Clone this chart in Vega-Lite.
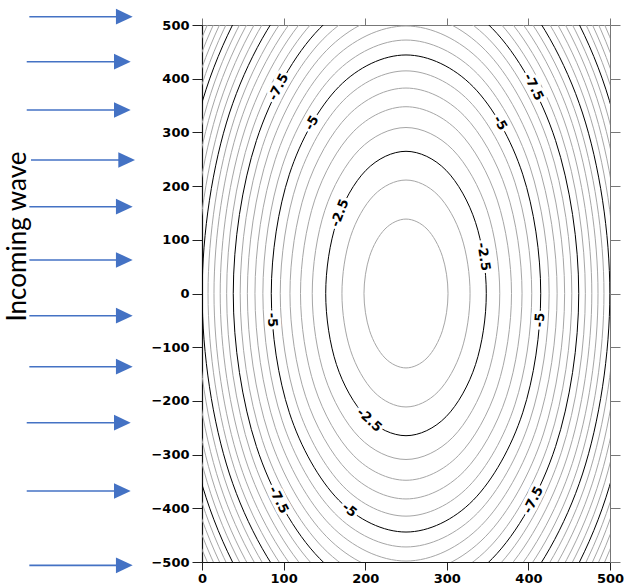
{
"$schema":"https://vega.github.io/schema/vega-lite/v6.json",
"autosize":"none",
"padding":{"left":202,"top":25,"right":14,"bottom":26},
"width":408,"height":537,
"background":"white",
"config":{"view":{"stroke":null},"axis":{"grid":false,"labelFont":"DejaVu Sans","labelFontWeight":"bold","labelFontSize":13,"labelColor":"black","domainColor":"#222","tickColor":"#222","labelOverlap":false}},
"datasets":{
"c":[
{"l":-1.5,"o":0,"x":301.5,"y":0},{"l":-1.5,"o":1,"x":294.6,"y":69.3},{"l":-1.5,"o":2,"x":275.8,"y":120},{"l":-1.5,"o":3,"x":250,"y":138.6},{"l":-1.5,"o":4,"x":224.2,"y":120},{"l":-1.5,"o":5,"x":205.4,"y":69.3},{"l":-1.5,"o":6,"x":198.5,"y":0},{"l":-1.5,"o":7,"x":205.4,"y":-69.3},{"l":-1.5,"o":8,"x":224.2,"y":-120},{"l":-1.5,"o":9,"x":250,"y":-138.6},{"l":-1.5,"o":10,"x":275.8,"y":-120},{"l":-1.5,"o":11,"x":294.6,"y":-69.3},
{"l":-2,"o":0,"x":328.5,"y":0},{"l":-2,"o":1,"x":318.0,"y":105.7},{"l":-2,"o":2,"x":289.3,"y":183.0},{"l":-2,"o":3,"x":250,"y":211.3},{"l":-2,"o":4,"x":210.7,"y":183.0},{"l":-2,"o":5,"x":182.0,"y":105.7},{"l":-2,"o":6,"x":171.5,"y":0},{"l":-2,"o":7,"x":182.0,"y":-105.7},{"l":-2,"o":8,"x":210.7,"y":-183.0},{"l":-2,"o":9,"x":250,"y":-211.3},{"l":-2,"o":10,"x":289.3,"y":-183.0},{"l":-2,"o":11,"x":318.0,"y":-105.7},
{"l":-2.5,"o":0,"x":348.4,"y":0},{"l":-2.5,"o":1,"x":335.2,"y":132.4},{"l":-2.5,"o":2,"x":299.2,"y":229.3},{"l":-2.5,"o":3,"x":250,"y":264.8},{"l":-2.5,"o":4,"x":200.8,"y":229.3},{"l":-2.5,"o":5,"x":164.8,"y":132.4},{"l":-2.5,"o":6,"x":151.6,"y":0},{"l":-2.5,"o":7,"x":164.8,"y":-132.4},{"l":-2.5,"o":8,"x":200.8,"y":-229.3},{"l":-2.5,"o":9,"x":250,"y":-264.8},{"l":-2.5,"o":10,"x":299.2,"y":-229.3},{"l":-2.5,"o":11,"x":335.2,"y":-132.4},
{"l":-3,"o":0,"x":364.9,"y":0},{"l":-3,"o":1,"x":349.5,"y":154.6},{"l":-3,"o":2,"x":307.4,"y":267.7},{"l":-3,"o":3,"x":250,"y":309.1},{"l":-3,"o":4,"x":192.6,"y":267.7},{"l":-3,"o":5,"x":150.5,"y":154.6},{"l":-3,"o":6,"x":135.1,"y":0},{"l":-3,"o":7,"x":150.5,"y":-154.6},{"l":-3,"o":8,"x":192.6,"y":-267.7},{"l":-3,"o":9,"x":250,"y":-309.1},{"l":-3,"o":10,"x":307.4,"y":-267.7},{"l":-3,"o":11,"x":349.5,"y":-154.6},
{"l":-3.5,"o":0,"x":379.3,"y":0},{"l":-3.5,"o":1,"x":361.9,"y":173.9},{"l":-3.5,"o":2,"x":314.6,"y":301.2},{"l":-3.5,"o":3,"x":250,"y":347.8},{"l":-3.5,"o":4,"x":185.4,"y":301.2},{"l":-3.5,"o":5,"x":138.1,"y":173.9},{"l":-3.5,"o":6,"x":120.7,"y":0},{"l":-3.5,"o":7,"x":138.1,"y":-173.9},{"l":-3.5,"o":8,"x":185.4,"y":-301.2},{"l":-3.5,"o":9,"x":250,"y":-347.8},{"l":-3.5,"o":10,"x":314.6,"y":-301.2},{"l":-3.5,"o":11,"x":361.9,"y":-173.9},
{"l":-4,"o":0,"x":392.2,"y":0},{"l":-4,"o":1,"x":373.2,"y":191.3},{"l":-4,"o":2,"x":321.1,"y":331.3},{"l":-4,"o":3,"x":250,"y":382.6},{"l":-4,"o":4,"x":178.9,"y":331.3},{"l":-4,"o":5,"x":126.9,"y":191.3},{"l":-4,"o":6,"x":107.8,"y":0},{"l":-4,"o":7,"x":126.9,"y":-191.3},{"l":-4,"o":8,"x":178.9,"y":-331.3},{"l":-4,"o":9,"x":250,"y":-382.6},{"l":-4,"o":10,"x":321.1,"y":-331.3},{"l":-4,"o":11,"x":373.2,"y":-191.3},
{"l":-4.5,"o":0,"x":404.1,"y":0},{"l":-4.5,"o":1,"x":383.4,"y":207.3},{"l":-4.5,"o":2,"x":327.0,"y":359.0},{"l":-4.5,"o":3,"x":250,"y":414.6},{"l":-4.5,"o":4,"x":173.0,"y":359.0},{"l":-4.5,"o":5,"x":116.6,"y":207.3},{"l":-4.5,"o":6,"x":95.9,"y":0},{"l":-4.5,"o":7,"x":116.6,"y":-207.3},{"l":-4.5,"o":8,"x":173.0,"y":-359.0},{"l":-4.5,"o":9,"x":250,"y":-414.6},{"l":-4.5,"o":10,"x":327.0,"y":-359.0},{"l":-4.5,"o":11,"x":383.4,"y":-207.3},
{"l":-5,"o":0,"x":415.1,"y":0},{"l":-5,"o":1,"x":393.0,"y":222.1},{"l":-5,"o":2,"x":332.5,"y":384.7},{"l":-5,"o":3,"x":250,"y":444.2},{"l":-5,"o":4,"x":167.5,"y":384.7},{"l":-5,"o":5,"x":107.1,"y":222.1},{"l":-5,"o":6,"x":84.9,"y":0},{"l":-5,"o":7,"x":107.1,"y":-222.1},{"l":-5,"o":8,"x":167.5,"y":-384.7},{"l":-5,"o":9,"x":250,"y":-444.2},{"l":-5,"o":10,"x":332.5,"y":-384.7},{"l":-5,"o":11,"x":393.0,"y":-222.1},
{"l":-5.5,"o":0,"x":425.4,"y":0},{"l":-5.5,"o":1,"x":401.9,"y":236.0},{"l":-5.5,"o":2,"x":337.7,"y":408.8},{"l":-5.5,"o":3,"x":250,"y":472.0},{"l":-5.5,"o":4,"x":162.3,"y":408.8},{"l":-5.5,"o":5,"x":98.1,"y":236.0},{"l":-5.5,"o":6,"x":74.6,"y":0},{"l":-5.5,"o":7,"x":98.1,"y":-236.0},{"l":-5.5,"o":8,"x":162.3,"y":-408.8},{"l":-5.5,"o":9,"x":250,"y":-472.0},{"l":-5.5,"o":10,"x":337.7,"y":-408.8},{"l":-5.5,"o":11,"x":401.9,"y":-236.0},
{"l":-6,"o":0,"x":435.2,"y":0},{"l":-6,"o":1,"x":410.3,"y":249.1},{"l":-6,"o":2,"x":342.6,"y":431.4},{"l":-6,"o":3,"x":250,"y":498.2},{"l":-6,"o":4,"x":157.4,"y":431.4},{"l":-6,"o":5,"x":89.7,"y":249.1},{"l":-6,"o":6,"x":64.9,"y":0},{"l":-6,"o":7,"x":89.7,"y":-249.1},{"l":-6,"o":8,"x":157.4,"y":-431.4},{"l":-6,"o":9,"x":250,"y":-498.2},{"l":-6,"o":10,"x":342.6,"y":-431.4},{"l":-6,"o":11,"x":410.3,"y":-249.1},
{"l":-6.5,"o":0,"x":444.4,"y":0},{"l":-6.5,"o":1,"x":418.4,"y":261.6},{"l":-6.5,"o":2,"x":347.2,"y":453.0},{"l":-6.5,"o":3,"x":250,"y":523.1},{"l":-6.5,"o":4,"x":152.8,"y":453.0},{"l":-6.5,"o":5,"x":81.6,"y":261.6},{"l":-6.5,"o":6,"x":55.6,"y":0},{"l":-6.5,"o":7,"x":81.6,"y":-261.6},{"l":-6.5,"o":8,"x":152.8,"y":-453.0},{"l":-6.5,"o":9,"x":250,"y":-523.1},{"l":-6.5,"o":10,"x":347.2,"y":-453.0},{"l":-6.5,"o":11,"x":418.4,"y":-261.6},
{"l":-7,"o":0,"x":453.2,"y":0},{"l":-7,"o":1,"x":426.0,"y":273.5},{"l":-7,"o":2,"x":351.6,"y":473.6},{"l":-7,"o":3,"x":250,"y":546.9},{"l":-7,"o":4,"x":148.4,"y":473.6},{"l":-7,"o":5,"x":74.0,"y":273.5},{"l":-7,"o":6,"x":46.8,"y":0},{"l":-7,"o":7,"x":74.0,"y":-273.5},{"l":-7,"o":8,"x":148.4,"y":-473.6},{"l":-7,"o":9,"x":250,"y":-546.9},{"l":-7,"o":10,"x":351.6,"y":-473.6},{"l":-7,"o":11,"x":426.0,"y":-273.5},
{"l":-7.5,"o":0,"x":461.7,"y":0},{"l":-7.5,"o":1,"x":433.3,"y":284.9},{"l":-7.5,"o":2,"x":355.9,"y":493.4},{"l":-7.5,"o":3,"x":250,"y":569.7},{"l":-7.5,"o":4,"x":144.1,"y":493.4},{"l":-7.5,"o":5,"x":66.7,"y":284.9},{"l":-7.5,"o":6,"x":38.3,"y":0},{"l":-7.5,"o":7,"x":66.7,"y":-284.9},{"l":-7.5,"o":8,"x":144.1,"y":-493.4},{"l":-7.5,"o":9,"x":250,"y":-569.7},{"l":-7.5,"o":10,"x":355.9,"y":-493.4},{"l":-7.5,"o":11,"x":433.3,"y":-284.9},
{"l":-8,"o":0,"x":469.8,"y":0},{"l":-8,"o":1,"x":440.4,"y":295.8},{"l":-8,"o":2,"x":359.9,"y":512.3},{"l":-8,"o":3,"x":250,"y":591.6},{"l":-8,"o":4,"x":140.1,"y":512.3},{"l":-8,"o":5,"x":59.6,"y":295.8},{"l":-8,"o":6,"x":30.2,"y":0},{"l":-8,"o":7,"x":59.6,"y":-295.8},{"l":-8,"o":8,"x":140.1,"y":-512.3},{"l":-8,"o":9,"x":250,"y":-591.6},{"l":-8,"o":10,"x":359.9,"y":-512.3},{"l":-8,"o":11,"x":440.4,"y":-295.8},
{"l":-8.5,"o":0,"x":477.7,"y":0},{"l":-8.5,"o":1,"x":447.2,"y":306.4},{"l":-8.5,"o":2,"x":363.9,"y":530.6},{"l":-8.5,"o":3,"x":250,"y":612.7},{"l":-8.5,"o":4,"x":136.1,"y":530.6},{"l":-8.5,"o":5,"x":52.8,"y":306.4},{"l":-8.5,"o":6,"x":22.3,"y":0},{"l":-8.5,"o":7,"x":52.8,"y":-306.4},{"l":-8.5,"o":8,"x":136.1,"y":-530.6},{"l":-8.5,"o":9,"x":250,"y":-612.7},{"l":-8.5,"o":10,"x":363.9,"y":-530.6},{"l":-8.5,"o":11,"x":447.2,"y":-306.4},
{"l":-9,"o":0,"x":485.3,"y":0},{"l":-9,"o":1,"x":453.8,"y":316.6},{"l":-9,"o":2,"x":367.7,"y":548.3},{"l":-9,"o":3,"x":250,"y":633.1},{"l":-9,"o":4,"x":132.4,"y":548.3},{"l":-9,"o":5,"x":46.2,"y":316.6},{"l":-9,"o":6,"x":14.7,"y":0},{"l":-9,"o":7,"x":46.2,"y":-316.6},{"l":-9,"o":8,"x":132.4,"y":-548.3},{"l":-9,"o":9,"x":250,"y":-633.1},{"l":-9,"o":10,"x":367.7,"y":-548.3},{"l":-9,"o":11,"x":453.8,"y":-316.6},
{"l":-9.5,"o":0,"x":492.6,"y":0},{"l":-9.5,"o":1,"x":460.1,"y":326.5},{"l":-9.5,"o":2,"x":371.3,"y":565.4},{"l":-9.5,"o":3,"x":250,"y":652.9},{"l":-9.5,"o":4,"x":128.7,"y":565.4},{"l":-9.5,"o":5,"x":39.9,"y":326.5},{"l":-9.5,"o":6,"x":7.4,"y":0},{"l":-9.5,"o":7,"x":39.9,"y":-326.5},{"l":-9.5,"o":8,"x":128.7,"y":-565.4},{"l":-9.5,"o":9,"x":250,"y":-652.9},{"l":-9.5,"o":10,"x":371.3,"y":-565.4},{"l":-9.5,"o":11,"x":460.1,"y":-326.5},
{"l":-10,"o":0,"x":499.8,"y":0},{"l":-10,"o":1,"x":466.3,"y":336.1},{"l":-10,"o":2,"x":374.9,"y":582.0},{"l":-10,"o":3,"x":250,"y":672.1},{"l":-10,"o":4,"x":125.1,"y":582.0},{"l":-10,"o":5,"x":33.7,"y":336.1},{"l":-10,"o":6,"x":0.2,"y":0},{"l":-10,"o":7,"x":33.7,"y":-336.1},{"l":-10,"o":8,"x":125.1,"y":-582.0},{"l":-10,"o":9,"x":250,"y":-672.1},{"l":-10,"o":10,"x":374.9,"y":-582.0},{"l":-10,"o":11,"x":466.3,"y":-336.1},
{"l":-10.5,"o":0,"x":506.7,"y":0},{"l":-10.5,"o":1,"x":472.3,"y":345.4},{"l":-10.5,"o":2,"x":378.4,"y":598.2},{"l":-10.5,"o":3,"x":250,"y":690.8},{"l":-10.5,"o":4,"x":121.6,"y":598.2},{"l":-10.5,"o":5,"x":27.7,"y":345.4},{"l":-10.5,"o":6,"x":-6.7,"y":0},{"l":-10.5,"o":7,"x":27.7,"y":-345.4},{"l":-10.5,"o":8,"x":121.6,"y":-598.2},{"l":-10.5,"o":9,"x":250,"y":-690.8},{"l":-10.5,"o":10,"x":378.4,"y":-598.2},{"l":-10.5,"o":11,"x":472.3,"y":-345.4},
{"l":-11,"o":0,"x":513.5,"y":0},{"l":-11,"o":1,"x":478.2,"y":354.5},{"l":-11,"o":2,"x":381.7,"y":614.0},{"l":-11,"o":3,"x":250,"y":709.0},{"l":-11,"o":4,"x":118.3,"y":614.0},{"l":-11,"o":5,"x":21.8,"y":354.5},{"l":-11,"o":6,"x":-13.5,"y":0},{"l":-11,"o":7,"x":21.8,"y":-354.5},{"l":-11,"o":8,"x":118.3,"y":-614.0},{"l":-11,"o":9,"x":250,"y":-709.0},{"l":-11,"o":10,"x":381.7,"y":-614.0},{"l":-11,"o":11,"x":478.2,"y":-354.5},
{"l":-11.5,"o":0,"x":520.1,"y":0},{"l":-11.5,"o":1,"x":483.9,"y":363.4},{"l":-11.5,"o":2,"x":385.0,"y":629.3},{"l":-11.5,"o":3,"x":250,"y":726.7},{"l":-11.5,"o":4,"x":115.0,"y":629.3},{"l":-11.5,"o":5,"x":16.1,"y":363.4},{"l":-11.5,"o":6,"x":-20.1,"y":0},{"l":-11.5,"o":7,"x":16.1,"y":-363.4},{"l":-11.5,"o":8,"x":115.0,"y":-629.3},{"l":-11.5,"o":9,"x":250,"y":-726.7},{"l":-11.5,"o":10,"x":385.0,"y":-629.3},{"l":-11.5,"o":11,"x":483.9,"y":-363.4},
{"l":-12,"o":0,"x":526.5,"y":0},{"l":-12,"o":1,"x":489.4,"y":372.0},{"l":-12,"o":2,"x":388.2,"y":644.3},{"l":-12,"o":3,"x":250,"y":744.0},{"l":-12,"o":4,"x":111.8,"y":644.3},{"l":-12,"o":5,"x":10.6,"y":372.0},{"l":-12,"o":6,"x":-26.5,"y":0},{"l":-12,"o":7,"x":10.6,"y":-372.0},{"l":-12,"o":8,"x":111.8,"y":-644.3},{"l":-12,"o":9,"x":250,"y":-744.0},{"l":-12,"o":10,"x":388.2,"y":-644.3},{"l":-12,"o":11,"x":489.4,"y":-372.0},
{"l":-12.5,"o":0,"x":532.8,"y":0},{"l":-12.5,"o":1,"x":494.9,"y":380.5},{"l":-12.5,"o":2,"x":391.4,"y":658.9},{"l":-12.5,"o":3,"x":250,"y":760.9},{"l":-12.5,"o":4,"x":108.6,"y":658.9},{"l":-12.5,"o":5,"x":5.1,"y":380.5},{"l":-12.5,"o":6,"x":-32.8,"y":0},{"l":-12.5,"o":7,"x":5.1,"y":-380.5},{"l":-12.5,"o":8,"x":108.6,"y":-658.9},{"l":-12.5,"o":9,"x":250,"y":-760.9},{"l":-12.5,"o":10,"x":391.4,"y":-658.9},{"l":-12.5,"o":11,"x":494.9,"y":-380.5},
{"l":-13,"o":0,"x":538.9,"y":0},{"l":-13,"o":1,"x":500.2,"y":388.7},{"l":-13,"o":2,"x":394.5,"y":673.2},{"l":-13,"o":3,"x":250,"y":777.4},{"l":-13,"o":4,"x":105.5,"y":673.2},{"l":-13,"o":5,"x":-0.2,"y":388.7},{"l":-13,"o":6,"x":-38.9,"y":0},{"l":-13,"o":7,"x":-0.2,"y":-388.7},{"l":-13,"o":8,"x":105.5,"y":-673.2},{"l":-13,"o":9,"x":250,"y":-777.4},{"l":-13,"o":10,"x":394.5,"y":-673.2},{"l":-13,"o":11,"x":500.2,"y":-388.7},
{"l":-13.5,"o":0,"x":544.9,"y":0},{"l":-13.5,"o":1,"x":505.4,"y":396.8},{"l":-13.5,"o":2,"x":397.5,"y":687.3},{"l":-13.5,"o":3,"x":250,"y":793.6},{"l":-13.5,"o":4,"x":102.5,"y":687.3},{"l":-13.5,"o":5,"x":-5.4,"y":396.8},{"l":-13.5,"o":6,"x":-44.9,"y":0},{"l":-13.5,"o":7,"x":-5.4,"y":-396.8},{"l":-13.5,"o":8,"x":102.5,"y":-687.3},{"l":-13.5,"o":9,"x":250,"y":-793.6},{"l":-13.5,"o":10,"x":397.5,"y":-687.3},{"l":-13.5,"o":11,"x":505.4,"y":-396.8},
{"l":-14,"o":0,"x":550.8,"y":0},{"l":-14,"o":1,"x":510.5,"y":404.8},{"l":-14,"o":2,"x":400.4,"y":701.0},{"l":-14,"o":3,"x":250,"y":809.5},{"l":-14,"o":4,"x":99.6,"y":701.0},{"l":-14,"o":5,"x":-10.5,"y":404.8},{"l":-14,"o":6,"x":-50.8,"y":0},{"l":-14,"o":7,"x":-10.5,"y":-404.8},{"l":-14,"o":8,"x":99.6,"y":-701.0},{"l":-14,"o":9,"x":250,"y":-809.5},{"l":-14,"o":10,"x":400.4,"y":-701.0},{"l":-14,"o":11,"x":510.5,"y":-404.8},
{"l":-14.5,"o":0,"x":556.6,"y":0},{"l":-14.5,"o":1,"x":515.5,"y":412.6},{"l":-14.5,"o":2,"x":403.3,"y":714.5},{"l":-14.5,"o":3,"x":250,"y":825.1},{"l":-14.5,"o":4,"x":96.7,"y":714.5},{"l":-14.5,"o":5,"x":-15.5,"y":412.6},{"l":-14.5,"o":6,"x":-56.6,"y":0},{"l":-14.5,"o":7,"x":-15.5,"y":-412.6},{"l":-14.5,"o":8,"x":96.7,"y":-714.5},{"l":-14.5,"o":9,"x":250,"y":-825.1},{"l":-14.5,"o":10,"x":403.3,"y":-714.5},{"l":-14.5,"o":11,"x":515.5,"y":-412.6}
],
"arrows":[
{"x":-211.6,"x2":-95.2,"y":515.5},{"x":-214.8,"x2":-97.6,"y":431.7},{"x":-214.8,"x2":-97.6,"y":341.7},{"x":-209.6,"x2":-92.3,"y":248.6},{"x":-211.6,"x2":-95.2,"y":161.6},{"x":-211.6,"x2":-95.2,"y":62.4},{"x":-211.6,"x2":-95.2,"y":-41.3},{"x":-211.6,"x2":-95.2,"y":-136.3},{"x":-214.8,"x2":-97.6,"y":-240.6},{"x":-214.8,"x2":-97.6,"y":-367.8},{"x":-211.6,"x2":-95.2,"y":-506.2}
],
"labels":[
{"id":1,"t":"-7.5","x":93.8,"y":384.5},{"id":2,"t":"-5","x":134.6,"y":317.5},{"id":3,"t":"-7.5","x":406.2,"y":384.5},{"id":4,"t":"-5","x":365.4,"y":317.5},{"id":5,"t":"-2.5","x":168.9,"y":149.9},{"id":6,"t":"-2.5","x":345.0,"y":68.5},{"id":7,"t":"-5","x":86.0,"y":-49.3},{"id":8,"t":"-5","x":414.0,"y":-49.3},{"id":9,"t":"-2.5","x":205.1,"y":-235.6},{"id":10,"t":"-5","x":180.7,"y":-403.2},{"id":11,"t":"-7.5","x":93.8,"y":-384.5},{"id":12,"t":"-7.5","x":406.2,"y":-384.5}
]
},
"resolve":{"axis":{"x":"independent","y":"independent"}},
"layer":[
{"data":{"name":"c"},
 "mark":{"type":"line","interpolate":"cardinal-closed","clip":true,"strokeWidth":1},
 "encoding":{
  "x":{"field":"x","type":"quantitative","scale":{"domain":[0,500],"nice":false,"zero":false},"axis":{"values":[0,100,200,300,400,500],"title":null,"tickSize":8,"labelPadding":2,"labelFlush":false,"domainColor":"#111","domainWidth":1.2}},
  "y":{"field":"y","type":"quantitative","scale":{"domain":[-500,500],"nice":false,"zero":false},"axis":{"values":[-500,-400,-300,-200,-100,0,100,200,300,400,500],"title":"Incoming wave","titleFont":"Lato","titleFontSize":26,"titleFontWeight":"normal","titleColor":"black","titleX":-177,"titleY":211,"titleAngle":270,"titleBaseline":"alphabetic","titleAlign":"center","tickSize":10,"labelPadding":3,"domainColor":"#111","domainWidth":1.2}},
  "detail":{"field":"l","type":"nominal"},
  "order":{"field":"o","type":"quantitative"},
  "color":{"condition":{"test":"datum.l % 2.5 === 0","value":"#000000"},"value":"#a6a6a6"}
 }},
{"data":{"name":"arrows"},
 "mark":{"type":"rule","color":"#4472C4","strokeWidth":1.6},
 "encoding":{
  "x":{"field":"x","type":"quantitative","axis":{"orient":"top","labels":false,"title":null,"values":[0,100,200,300,400,500],"tickSize":7,"domainColor":"#777","tickColor":"#777"}},
  "x2":{"field":"x2"},
  "y":{"field":"y","type":"quantitative","axis":{"orient":"right","labels":false,"title":null,"values":[-500,-400,-300,-200,-100,0,100,200,300,400,500],"tickSize":10,"domainColor":"#777","tickColor":"#777"}}
 }},
{"data":{"name":"arrows"},
 "mark":{"type":"point","shape":"M-1,-0.94L1,0L-1,0.94Z","filled":true,"size":279,"color":"#4472C4","opacity":1},
 "encoding":{
  "x":{"field":"x2","type":"quantitative","axis":null},
  "y":{"field":"y","type":"quantitative","axis":null}
 }},
{"data":{"name":"labels"},
 "encoding":{
  "x":{"field":"x","type":"quantitative","axis":null},
  "y":{"field":"y","type":"quantitative","axis":null},
  "text":{"field":"t"},
  "angle":{"condition":[
    {"test":"datum.id===1 || datum.id===12","value":297},
    {"test":"datum.id===2","value":300},
    {"test":"datum.id===3 || datum.id===11","value":63},
    {"test":"datum.id===4","value":60},
    {"test":"datum.id===5","value":291},
    {"test":"datum.id===6","value":81},
    {"test":"datum.id===7","value":86},
    {"test":"datum.id===8","value":274},
    {"test":"datum.id===9","value":42},
    {"test":"datum.id===10","value":39}
   ],"value":0}
 },
 "layer":[
  {"mark":{"type":"text","font":"DejaVu Sans","fontWeight":"bold","fontSize":13,"align":"center","baseline":"middle","fill":"white","stroke":"white","strokeWidth":6,"strokeJoin":"round"}},
  {"mark":{"type":"text","font":"DejaVu Sans","fontWeight":"bold","fontSize":13,"align":"center","baseline":"middle","fill":"black"}}
 ]}
]
}
